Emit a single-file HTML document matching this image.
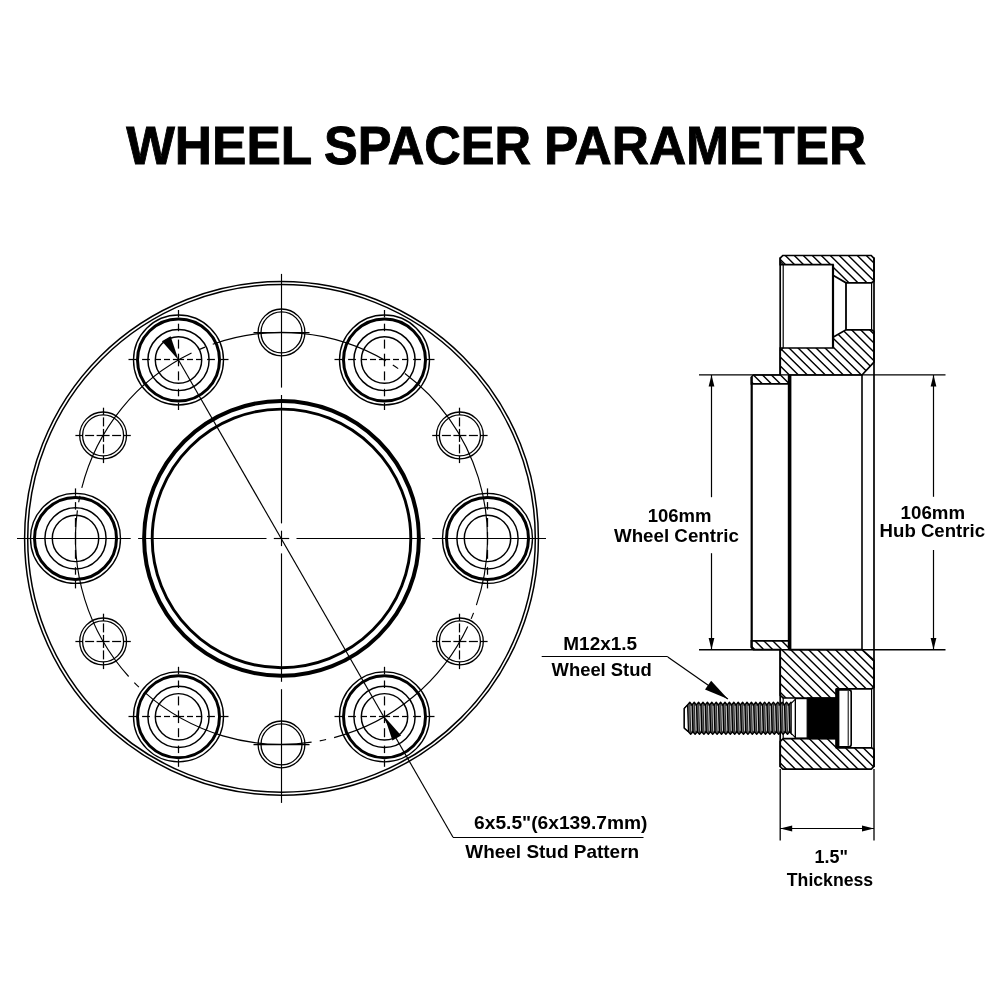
<!DOCTYPE html>
<html lang="en">
<head>
<meta charset="utf-8">
<title>Wheel Spacer Parameter</title>
<style>
html,body{margin:0;padding:0;background:#fff;}
body{width:1000px;height:1000px;overflow:hidden;}
svg{display:block;will-change:transform;}
</style>
</head>
<body>
<svg width="1000" height="1000" viewBox="0 0 1000 1000">
<rect width="1000" height="1000" fill="#fff"/>
<g fill="none" stroke="#000" stroke-linecap="butt">
<circle cx="281.5" cy="538.4" r="256.9" stroke-width="1.5"/>
<circle cx="281.5" cy="538.4" r="253.8" stroke-width="1.5"/>
<circle cx="281.5" cy="538.4" r="137.4" stroke-width="4"/>
<circle cx="281.5" cy="538.4" r="129.3" stroke-width="2.9"/>
<circle cx="487.5" cy="538.4" r="45" stroke-width="1.35"/>
<circle cx="487.5" cy="538.4" r="41" stroke-width="3"/>
<circle cx="487.5" cy="538.4" r="30.6" stroke-width="1.45"/>
<circle cx="487.5" cy="538.4" r="23.2" stroke-width="1.45"/>
<circle cx="384.5" cy="360" r="45" stroke-width="1.35"/>
<circle cx="384.5" cy="360" r="41" stroke-width="3"/>
<circle cx="384.5" cy="360" r="30.6" stroke-width="1.45"/>
<circle cx="384.5" cy="360" r="23.2" stroke-width="1.45"/>
<circle cx="178.5" cy="360" r="45" stroke-width="1.35"/>
<circle cx="178.5" cy="360" r="41" stroke-width="3"/>
<circle cx="178.5" cy="360" r="30.6" stroke-width="1.45"/>
<circle cx="178.5" cy="360" r="23.2" stroke-width="1.45"/>
<circle cx="75.5" cy="538.4" r="45" stroke-width="1.35"/>
<circle cx="75.5" cy="538.4" r="41" stroke-width="3"/>
<circle cx="75.5" cy="538.4" r="30.6" stroke-width="1.45"/>
<circle cx="75.5" cy="538.4" r="23.2" stroke-width="1.45"/>
<circle cx="178.5" cy="716.8" r="45" stroke-width="1.35"/>
<circle cx="178.5" cy="716.8" r="41" stroke-width="3"/>
<circle cx="178.5" cy="716.8" r="30.6" stroke-width="1.45"/>
<circle cx="178.5" cy="716.8" r="23.2" stroke-width="1.45"/>
<circle cx="384.5" cy="716.8" r="45" stroke-width="1.35"/>
<circle cx="384.5" cy="716.8" r="41" stroke-width="3"/>
<circle cx="384.5" cy="716.8" r="30.6" stroke-width="1.45"/>
<circle cx="384.5" cy="716.8" r="23.2" stroke-width="1.45"/>
<circle cx="459.9" cy="435.4" r="23.4" stroke-width="1.3"/>
<circle cx="459.9" cy="435.4" r="20.5" stroke-width="1.3"/>
<circle cx="281.5" cy="332.4" r="23.4" stroke-width="1.3"/>
<circle cx="281.5" cy="332.4" r="20.5" stroke-width="1.3"/>
<circle cx="103.1" cy="435.4" r="23.4" stroke-width="1.3"/>
<circle cx="103.1" cy="435.4" r="20.5" stroke-width="1.3"/>
<circle cx="103.1" cy="641.4" r="23.4" stroke-width="1.3"/>
<circle cx="103.1" cy="641.4" r="20.5" stroke-width="1.3"/>
<circle cx="281.5" cy="744.4" r="23.4" stroke-width="1.3"/>
<circle cx="281.5" cy="744.4" r="20.5" stroke-width="1.3"/>
<circle cx="459.9" cy="641.4" r="23.4" stroke-width="1.3"/>
<circle cx="459.9" cy="641.4" r="20.5" stroke-width="1.3"/>
<path d="M476.39 605.13A206 206 0 0 0 404.9 373.45" stroke-width="1.15"/>
<path d="M398.18 368.63A206 206 0 0 0 392.79 365.05" stroke-width="1.15"/>
<path d="M385.74 360.72A206 206 0 0 0 212.74 344.22" stroke-width="1.15"/>
<path d="M205 347.13A206 206 0 0 0 199.03 349.63" stroke-width="1.15"/>
<path d="M191.52 353.09A206 206 0 0 0 81.79 487.87" stroke-width="1.15"/>
<path d="M79.93 495.92A206 206 0 0 0 78.69 502.27" stroke-width="1.15"/>
<path d="M77.41 510.44A206 206 0 0 0 128.65 676.51" stroke-width="1.15"/>
<path d="M134.32 682.53A206 206 0 0 0 138.92 687.08" stroke-width="1.15"/>
<path d="M145 692.68A206 206 0 0 0 311.59 742.19" stroke-width="1.15"/>
<path d="M319.75 740.82A206 206 0 0 0 326.09 739.52" stroke-width="1.15"/>
<path d="M334.12 737.57A206 206 0 0 0 467.74 626.44" stroke-width="1.15"/>
<path d="M471.12 618.89A206 206 0 0 0 473.56 612.89" stroke-width="1.15"/>
<line x1="281.5" y1="538.5" x2="289.2" y2="538.5" stroke-width="1.15"/>
<line x1="296.5" y1="538.5" x2="424.9" y2="538.5" stroke-width="1.15"/>
<line x1="432.3" y1="538.5" x2="546" y2="538.5" stroke-width="1.15"/>
<line x1="281.5" y1="538.5" x2="273.8" y2="538.5" stroke-width="1.15"/>
<line x1="266.5" y1="538.5" x2="138.1" y2="538.5" stroke-width="1.15"/>
<line x1="130.7" y1="538.5" x2="17" y2="538.5" stroke-width="1.15"/>
<line x1="281.5" y1="538.4" x2="281.5" y2="546.1" stroke-width="1.15"/>
<line x1="281.5" y1="553.4" x2="281.5" y2="681.8" stroke-width="1.15"/>
<line x1="281.5" y1="689.2" x2="281.5" y2="802.9" stroke-width="1.15"/>
<line x1="281.5" y1="538.4" x2="281.5" y2="530.7" stroke-width="1.15"/>
<line x1="281.5" y1="523.4" x2="281.5" y2="395" stroke-width="1.15"/>
<line x1="281.5" y1="387.6" x2="281.5" y2="273.9" stroke-width="1.15"/>
<line x1="487.5" y1="538.4" x2="487.5" y2="544.7" stroke-width="1.25"/>
<line x1="487.5" y1="549.8" x2="487.5" y2="558.8" stroke-width="1.25"/>
<line x1="487.5" y1="567.2" x2="487.5" y2="574.7" stroke-width="1.25"/>
<line x1="487.5" y1="581" x2="487.5" y2="588.4" stroke-width="1.25"/>
<line x1="487.5" y1="538.4" x2="487.5" y2="532.1" stroke-width="1.25"/>
<line x1="487.5" y1="527" x2="487.5" y2="518" stroke-width="1.25"/>
<line x1="487.5" y1="509.6" x2="487.5" y2="502.1" stroke-width="1.25"/>
<line x1="487.5" y1="495.8" x2="487.5" y2="488.4" stroke-width="1.25"/>
<line x1="384.5" y1="360" x2="384.5" y2="366.3" stroke-width="1.25"/>
<line x1="384.5" y1="371.4" x2="384.5" y2="380.4" stroke-width="1.25"/>
<line x1="384.5" y1="388.8" x2="384.5" y2="396.3" stroke-width="1.25"/>
<line x1="384.5" y1="402.6" x2="384.5" y2="410" stroke-width="1.25"/>
<line x1="384.5" y1="360" x2="384.5" y2="353.7" stroke-width="1.25"/>
<line x1="384.5" y1="348.6" x2="384.5" y2="339.6" stroke-width="1.25"/>
<line x1="384.5" y1="331.2" x2="384.5" y2="323.7" stroke-width="1.25"/>
<line x1="384.5" y1="317.4" x2="384.5" y2="310" stroke-width="1.25"/>
<line x1="384.5" y1="359.5" x2="390.1" y2="359.5" stroke-width="1.25"/>
<line x1="393" y1="359.5" x2="399" y2="359.5" stroke-width="1.25"/>
<line x1="402" y1="359.5" x2="408" y2="359.5" stroke-width="1.25"/>
<line x1="413.1" y1="359.5" x2="420.9" y2="359.5" stroke-width="1.25"/>
<line x1="427" y1="359.5" x2="434.5" y2="359.5" stroke-width="1.25"/>
<line x1="384.5" y1="359.5" x2="378.9" y2="359.5" stroke-width="1.25"/>
<line x1="376" y1="359.5" x2="370" y2="359.5" stroke-width="1.25"/>
<line x1="367" y1="359.5" x2="361" y2="359.5" stroke-width="1.25"/>
<line x1="355.9" y1="359.5" x2="348.1" y2="359.5" stroke-width="1.25"/>
<line x1="342" y1="359.5" x2="334.5" y2="359.5" stroke-width="1.25"/>
<line x1="178.5" y1="360" x2="178.5" y2="366.3" stroke-width="1.25"/>
<line x1="178.5" y1="371.4" x2="178.5" y2="380.4" stroke-width="1.25"/>
<line x1="178.5" y1="388.8" x2="178.5" y2="396.3" stroke-width="1.25"/>
<line x1="178.5" y1="402.6" x2="178.5" y2="410" stroke-width="1.25"/>
<line x1="178.5" y1="360" x2="178.5" y2="353.7" stroke-width="1.25"/>
<line x1="178.5" y1="348.6" x2="178.5" y2="339.6" stroke-width="1.25"/>
<line x1="178.5" y1="331.2" x2="178.5" y2="323.7" stroke-width="1.25"/>
<line x1="178.5" y1="317.4" x2="178.5" y2="310" stroke-width="1.25"/>
<line x1="178.5" y1="359.5" x2="184.1" y2="359.5" stroke-width="1.25"/>
<line x1="187" y1="359.5" x2="193" y2="359.5" stroke-width="1.25"/>
<line x1="196" y1="359.5" x2="202" y2="359.5" stroke-width="1.25"/>
<line x1="207.1" y1="359.5" x2="214.9" y2="359.5" stroke-width="1.25"/>
<line x1="221" y1="359.5" x2="228.5" y2="359.5" stroke-width="1.25"/>
<line x1="178.5" y1="359.5" x2="172.9" y2="359.5" stroke-width="1.25"/>
<line x1="170" y1="359.5" x2="164" y2="359.5" stroke-width="1.25"/>
<line x1="161" y1="359.5" x2="155" y2="359.5" stroke-width="1.25"/>
<line x1="149.9" y1="359.5" x2="142.1" y2="359.5" stroke-width="1.25"/>
<line x1="136" y1="359.5" x2="128.5" y2="359.5" stroke-width="1.25"/>
<line x1="75.5" y1="538.4" x2="75.5" y2="544.7" stroke-width="1.25"/>
<line x1="75.5" y1="549.8" x2="75.5" y2="558.8" stroke-width="1.25"/>
<line x1="75.5" y1="567.2" x2="75.5" y2="574.7" stroke-width="1.25"/>
<line x1="75.5" y1="581" x2="75.5" y2="588.4" stroke-width="1.25"/>
<line x1="75.5" y1="538.4" x2="75.5" y2="532.1" stroke-width="1.25"/>
<line x1="75.5" y1="527" x2="75.5" y2="518" stroke-width="1.25"/>
<line x1="75.5" y1="509.6" x2="75.5" y2="502.1" stroke-width="1.25"/>
<line x1="75.5" y1="495.8" x2="75.5" y2="488.4" stroke-width="1.25"/>
<line x1="178.5" y1="716.8" x2="178.5" y2="723.1" stroke-width="1.25"/>
<line x1="178.5" y1="728.2" x2="178.5" y2="737.2" stroke-width="1.25"/>
<line x1="178.5" y1="745.6" x2="178.5" y2="753.1" stroke-width="1.25"/>
<line x1="178.5" y1="759.4" x2="178.5" y2="766.8" stroke-width="1.25"/>
<line x1="178.5" y1="716.8" x2="178.5" y2="710.5" stroke-width="1.25"/>
<line x1="178.5" y1="705.4" x2="178.5" y2="696.4" stroke-width="1.25"/>
<line x1="178.5" y1="688" x2="178.5" y2="680.5" stroke-width="1.25"/>
<line x1="178.5" y1="674.2" x2="178.5" y2="666.8" stroke-width="1.25"/>
<line x1="178.5" y1="716.5" x2="184.1" y2="716.5" stroke-width="1.25"/>
<line x1="187" y1="716.5" x2="193" y2="716.5" stroke-width="1.25"/>
<line x1="196" y1="716.5" x2="202" y2="716.5" stroke-width="1.25"/>
<line x1="207.1" y1="716.5" x2="214.9" y2="716.5" stroke-width="1.25"/>
<line x1="221" y1="716.5" x2="228.5" y2="716.5" stroke-width="1.25"/>
<line x1="178.5" y1="716.5" x2="172.9" y2="716.5" stroke-width="1.25"/>
<line x1="170" y1="716.5" x2="164" y2="716.5" stroke-width="1.25"/>
<line x1="161" y1="716.5" x2="155" y2="716.5" stroke-width="1.25"/>
<line x1="149.9" y1="716.5" x2="142.1" y2="716.5" stroke-width="1.25"/>
<line x1="136" y1="716.5" x2="128.5" y2="716.5" stroke-width="1.25"/>
<line x1="384.5" y1="716.8" x2="384.5" y2="723.1" stroke-width="1.25"/>
<line x1="384.5" y1="728.2" x2="384.5" y2="737.2" stroke-width="1.25"/>
<line x1="384.5" y1="745.6" x2="384.5" y2="753.1" stroke-width="1.25"/>
<line x1="384.5" y1="759.4" x2="384.5" y2="766.8" stroke-width="1.25"/>
<line x1="384.5" y1="716.8" x2="384.5" y2="710.5" stroke-width="1.25"/>
<line x1="384.5" y1="705.4" x2="384.5" y2="696.4" stroke-width="1.25"/>
<line x1="384.5" y1="688" x2="384.5" y2="680.5" stroke-width="1.25"/>
<line x1="384.5" y1="674.2" x2="384.5" y2="666.8" stroke-width="1.25"/>
<line x1="384.5" y1="716.5" x2="390.1" y2="716.5" stroke-width="1.25"/>
<line x1="393" y1="716.5" x2="399" y2="716.5" stroke-width="1.25"/>
<line x1="402" y1="716.5" x2="408" y2="716.5" stroke-width="1.25"/>
<line x1="413.1" y1="716.5" x2="420.9" y2="716.5" stroke-width="1.25"/>
<line x1="427" y1="716.5" x2="434.5" y2="716.5" stroke-width="1.25"/>
<line x1="384.5" y1="716.5" x2="378.9" y2="716.5" stroke-width="1.25"/>
<line x1="376" y1="716.5" x2="370" y2="716.5" stroke-width="1.25"/>
<line x1="367" y1="716.5" x2="361" y2="716.5" stroke-width="1.25"/>
<line x1="355.9" y1="716.5" x2="348.1" y2="716.5" stroke-width="1.25"/>
<line x1="342" y1="716.5" x2="334.5" y2="716.5" stroke-width="1.25"/>
<line x1="459.9" y1="435.5" x2="466.4" y2="435.5" stroke-width="1.25"/>
<line x1="468.9" y1="435.5" x2="477.9" y2="435.5" stroke-width="1.25"/>
<line x1="480.4" y1="435.5" x2="487.6" y2="435.5" stroke-width="1.25"/>
<line x1="459.9" y1="435.5" x2="453.4" y2="435.5" stroke-width="1.25"/>
<line x1="450.9" y1="435.5" x2="441.9" y2="435.5" stroke-width="1.25"/>
<line x1="439.4" y1="435.5" x2="432.2" y2="435.5" stroke-width="1.25"/>
<line x1="459.5" y1="435.4" x2="459.5" y2="441.9" stroke-width="1.25"/>
<line x1="459.5" y1="444.4" x2="459.5" y2="453.4" stroke-width="1.25"/>
<line x1="459.5" y1="455.9" x2="459.5" y2="463.1" stroke-width="1.25"/>
<line x1="459.5" y1="435.4" x2="459.5" y2="428.9" stroke-width="1.25"/>
<line x1="459.5" y1="426.4" x2="459.5" y2="417.4" stroke-width="1.25"/>
<line x1="459.5" y1="414.9" x2="459.5" y2="407.7" stroke-width="1.25"/>
<line x1="253.5" y1="332.5" x2="309.5" y2="332.5" stroke-width="1.25"/>
<line x1="103.1" y1="435.5" x2="109.6" y2="435.5" stroke-width="1.25"/>
<line x1="112.1" y1="435.5" x2="121.1" y2="435.5" stroke-width="1.25"/>
<line x1="123.6" y1="435.5" x2="130.8" y2="435.5" stroke-width="1.25"/>
<line x1="103.1" y1="435.5" x2="96.6" y2="435.5" stroke-width="1.25"/>
<line x1="94.1" y1="435.5" x2="85.1" y2="435.5" stroke-width="1.25"/>
<line x1="82.6" y1="435.5" x2="75.4" y2="435.5" stroke-width="1.25"/>
<line x1="103.5" y1="435.4" x2="103.5" y2="441.9" stroke-width="1.25"/>
<line x1="103.5" y1="444.4" x2="103.5" y2="453.4" stroke-width="1.25"/>
<line x1="103.5" y1="455.9" x2="103.5" y2="463.1" stroke-width="1.25"/>
<line x1="103.5" y1="435.4" x2="103.5" y2="428.9" stroke-width="1.25"/>
<line x1="103.5" y1="426.4" x2="103.5" y2="417.4" stroke-width="1.25"/>
<line x1="103.5" y1="414.9" x2="103.5" y2="407.7" stroke-width="1.25"/>
<line x1="103.1" y1="641.5" x2="109.6" y2="641.5" stroke-width="1.25"/>
<line x1="112.1" y1="641.5" x2="121.1" y2="641.5" stroke-width="1.25"/>
<line x1="123.6" y1="641.5" x2="130.8" y2="641.5" stroke-width="1.25"/>
<line x1="103.1" y1="641.5" x2="96.6" y2="641.5" stroke-width="1.25"/>
<line x1="94.1" y1="641.5" x2="85.1" y2="641.5" stroke-width="1.25"/>
<line x1="82.6" y1="641.5" x2="75.4" y2="641.5" stroke-width="1.25"/>
<line x1="103.5" y1="641.4" x2="103.5" y2="647.9" stroke-width="1.25"/>
<line x1="103.5" y1="650.4" x2="103.5" y2="659.4" stroke-width="1.25"/>
<line x1="103.5" y1="661.9" x2="103.5" y2="669.1" stroke-width="1.25"/>
<line x1="103.5" y1="641.4" x2="103.5" y2="634.9" stroke-width="1.25"/>
<line x1="103.5" y1="632.4" x2="103.5" y2="623.4" stroke-width="1.25"/>
<line x1="103.5" y1="620.9" x2="103.5" y2="613.7" stroke-width="1.25"/>
<line x1="253.5" y1="744.5" x2="309.5" y2="744.5" stroke-width="1.25"/>
<line x1="459.9" y1="641.5" x2="466.4" y2="641.5" stroke-width="1.25"/>
<line x1="468.9" y1="641.5" x2="477.9" y2="641.5" stroke-width="1.25"/>
<line x1="480.4" y1="641.5" x2="487.6" y2="641.5" stroke-width="1.25"/>
<line x1="459.9" y1="641.5" x2="453.4" y2="641.5" stroke-width="1.25"/>
<line x1="450.9" y1="641.5" x2="441.9" y2="641.5" stroke-width="1.25"/>
<line x1="439.4" y1="641.5" x2="432.2" y2="641.5" stroke-width="1.25"/>
<line x1="459.5" y1="641.4" x2="459.5" y2="647.9" stroke-width="1.25"/>
<line x1="459.5" y1="650.4" x2="459.5" y2="659.4" stroke-width="1.25"/>
<line x1="459.5" y1="661.9" x2="459.5" y2="669.1" stroke-width="1.25"/>
<line x1="459.5" y1="641.4" x2="459.5" y2="634.9" stroke-width="1.25"/>
<line x1="459.5" y1="632.4" x2="459.5" y2="623.4" stroke-width="1.25"/>
<line x1="459.5" y1="620.9" x2="459.5" y2="613.7" stroke-width="1.25"/>
<line x1="178.5" y1="360" x2="453" y2="837.2" stroke-width="1.15"/>
<line x1="453" y1="837.5" x2="643.5" y2="837.5" stroke-width="1.15"/>
</g>
<polygon fill="#000" points="178.5,360 170.58,336.28 161.92,341.28"/>
<polygon fill="#000" points="384.5,716.8 392.42,740.52 401.08,735.52"/>
<defs>
<clipPath id="hc0"><polygon points="780.2,258.1 782.8,255.5 871.2,255.5 874,258.3 874,281.1 871.6,282.8 846,282.8 833,275.3 833,264.6 780.2,264.6"/></clipPath>
<clipPath id="hc1"><polygon points="780.2,348 833,348 833,337.3 846,329.8 871.6,329.8 874,331.5 874,362.2 862,375 789.6,375 789.6,383.8 751.4,383.8 751.4,377 753.4,375 780.2,375"/></clipPath>
<clipPath id="hc2"><polygon points="751.4,640.8 789.6,640.8 789.6,649.6 862,649.6 874,660.4 874,687.3 871.6,688.8 836.5,688.8 836.5,698 783.2,698 780.2,695.3 780.2,649.6 753.4,649.6 751.4,647.6"/></clipPath>
<clipPath id="hc3"><polygon points="780.2,741.3 783.2,738.6 836.5,738.6 836.5,747.8 871.6,747.8 874,749.3 874,766.3 871.2,769.1 782.8,769.1 780.2,766.5"/></clipPath>
</defs>
<g clip-path="url(#hc0)" stroke="#000" stroke-width="1.42" fill="none">
<path d="M599.73 250L741.62 390M608.73 250L750.62 390M617.73 250L759.62 390M626.73 250L768.62 390M635.73 250L777.62 390M644.73 250L786.62 390M653.73 250L795.62 390M662.73 250L804.62 390M671.73 250L813.62 390M680.73 250L822.62 390M689.73 250L831.62 390M698.73 250L840.62 390M707.73 250L849.62 390M716.73 250L858.62 390M725.73 250L867.62 390M734.73 250L876.62 390M743.73 250L885.62 390M752.73 250L894.62 390M761.73 250L903.62 390M770.73 250L912.62 390M779.73 250L921.62 390M788.73 250L930.62 390M797.73 250L939.62 390M806.73 250L948.62 390M815.73 250L957.62 390M824.73 250L966.62 390M833.73 250L975.62 390M842.73 250L984.62 390M851.73 250L993.62 390M860.73 250L1002.62 390M869.73 250L1011.62 390M878.73 250L1020.62 390"/>
</g>
<g clip-path="url(#hc1)" stroke="#000" stroke-width="1.42" fill="none">
<path d="M599.73 250L741.62 390M608.73 250L750.62 390M617.73 250L759.62 390M626.73 250L768.62 390M635.73 250L777.62 390M644.73 250L786.62 390M653.73 250L795.62 390M662.73 250L804.62 390M671.73 250L813.62 390M680.73 250L822.62 390M689.73 250L831.62 390M698.73 250L840.62 390M707.73 250L849.62 390M716.73 250L858.62 390M725.73 250L867.62 390M734.73 250L876.62 390M743.73 250L885.62 390M752.73 250L894.62 390M761.73 250L903.62 390M770.73 250L912.62 390M779.73 250L921.62 390M788.73 250L930.62 390M797.73 250L939.62 390M806.73 250L948.62 390M815.73 250L957.62 390M824.73 250L966.62 390M833.73 250L975.62 390M842.73 250L984.62 390M851.73 250L993.62 390M860.73 250L1002.62 390M869.73 250L1011.62 390M878.73 250L1020.62 390"/>
</g>
<g clip-path="url(#hc2)" stroke="#000" stroke-width="1.42" fill="none">
<path d="M605.75 635L747.64 775M614.7 635L756.59 775M623.65 635L765.54 775M632.6 635L774.49 775M641.55 635L783.44 775M650.5 635L792.39 775M659.45 635L801.34 775M668.4 635L810.29 775M677.35 635L819.24 775M686.3 635L828.19 775M695.25 635L837.14 775M704.2 635L846.09 775M713.15 635L855.04 775M722.1 635L863.99 775M731.05 635L872.94 775M740 635L881.89 775M748.95 635L890.84 775M757.9 635L899.79 775M766.85 635L908.74 775M775.8 635L917.69 775M784.75 635L926.64 775M793.7 635L935.59 775M802.65 635L944.54 775M811.6 635L953.49 775M820.55 635L962.44 775M829.5 635L971.39 775M838.45 635L980.34 775M847.4 635L989.29 775M856.35 635L998.24 775M865.3 635L1007.19 775M874.25 635L1016.14 775M883.2 635L1025.09 775"/>
</g>
<g clip-path="url(#hc3)" stroke="#000" stroke-width="1.42" fill="none">
<path d="M605.75 635L747.64 775M614.7 635L756.59 775M623.65 635L765.54 775M632.6 635L774.49 775M641.55 635L783.44 775M650.5 635L792.39 775M659.45 635L801.34 775M668.4 635L810.29 775M677.35 635L819.24 775M686.3 635L828.19 775M695.25 635L837.14 775M704.2 635L846.09 775M713.15 635L855.04 775M722.1 635L863.99 775M731.05 635L872.94 775M740 635L881.89 775M748.95 635L890.84 775M757.9 635L899.79 775M766.85 635L908.74 775M775.8 635L917.69 775M784.75 635L926.64 775M793.7 635L935.59 775M802.65 635L944.54 775M811.6 635L953.49 775M820.55 635L962.44 775M829.5 635L971.39 775M838.45 635L980.34 775M847.4 635L989.29 775M856.35 635L998.24 775M865.3 635L1007.19 775M874.25 635L1016.14 775M883.2 635L1025.09 775"/>
</g>
<g fill="none" stroke="#000" stroke-linejoin="miter">
<polygon points="780.2,258.1 782.8,255.5 871.2,255.5 874,258.3 874,281.1 871.6,282.8 846,282.8 833,275.3 833,264.6 780.2,264.6" stroke-width="1.7"/>
<polygon points="780.2,348 833,348 833,337.3 846,329.8 871.6,329.8 874,331.5 874,362.2 862,375 789.6,375 789.6,383.8 751.4,383.8 751.4,377 753.4,375 780.2,375" stroke-width="1.7"/>
<polygon points="751.4,640.8 789.6,640.8 789.6,649.6 862,649.6 874,660.4 874,687.3 871.6,688.8 836.5,688.8 836.5,698 783.2,698 780.2,695.3 780.2,649.6 753.4,649.6 751.4,647.6" stroke-width="1.7"/>
<polygon points="780.2,741.3 783.2,738.6 836.5,738.6 836.5,747.8 871.6,747.8 874,749.3 874,766.3 871.2,769.1 782.8,769.1 780.2,766.5" stroke-width="1.7"/>
<line x1="874" y1="257.5" x2="874" y2="767.1" stroke-width="1.7"/>
<line x1="780.2" y1="257.5" x2="780.2" y2="375" stroke-width="1.7"/>
<line x1="780.2" y1="649.6" x2="780.2" y2="767.1" stroke-width="1.7"/>
<line x1="862" y1="375" x2="862" y2="649.6" stroke-width="1.6"/>
<line x1="751.7" y1="377" x2="751.7" y2="647.6" stroke-width="2.2"/>
<line x1="789.6" y1="375" x2="789.6" y2="649.6" stroke-width="3.6"/>
<line x1="783.2" y1="264.6" x2="783.2" y2="348" stroke-width="1.2"/>
<line x1="833" y1="264.6" x2="833" y2="348" stroke-width="2.2"/>
<line x1="846" y1="282.8" x2="846" y2="329.8" stroke-width="1.8"/>
<line x1="871.6" y1="282.8" x2="871.6" y2="329.8" stroke-width="1.2"/>
<line x1="780.2" y1="261.4" x2="783.2" y2="264.6" stroke-width="1.2"/>
<line x1="780.2" y1="351.2" x2="783.2" y2="348" stroke-width="1.2"/>
<line x1="783.2" y1="698" x2="783.2" y2="738.6" stroke-width="1.2"/>
<line x1="871.6" y1="688.8" x2="871.6" y2="747.8" stroke-width="1.2"/>
<line x1="836.9" y1="688.8" x2="836.9" y2="747.8" stroke-width="3.3"/>
</g>
<g>
<polygon points="684.3,708.5 687.6,704.9 689.8,702.3 692,704.9 694.2,702.3 696.4,704.9 698.6,702.3 700.8,704.9 703,702.3 705.2,704.9 707.4,702.3 709.6,704.9 711.8,702.3 714,704.9 716.2,702.3 718.4,704.9 720.6,702.3 722.8,704.9 725,702.3 727.2,704.9 729.4,702.3 731.6,704.9 733.8,702.3 736,704.9 738.2,702.3 740.4,704.9 742.6,702.3 744.8,704.9 747,702.3 749.2,704.9 751.4,702.3 753.6,704.9 755.8,702.3 758,704.9 760.2,702.3 762.4,704.9 764.6,702.3 766.8,704.9 769,702.3 771.2,704.9 773.4,702.3 775.6,704.9 777.8,702.3 780,704.9 782.2,702.3 784.4,704.9 786.6,702.3 788.8,704.9 791,702.3 793.2,704.9 791.2,731.7 791.9,734.3 789.7,731.7 787.5,734.3 785.3,731.7 783.1,734.3 780.9,731.7 778.7,734.3 776.5,731.7 774.3,734.3 772.1,731.7 769.9,734.3 767.7,731.7 765.5,734.3 763.3,731.7 761.1,734.3 758.9,731.7 756.7,734.3 754.5,731.7 752.3,734.3 750.1,731.7 747.9,734.3 745.7,731.7 743.5,734.3 741.3,731.7 739.1,734.3 736.9,731.7 734.7,734.3 732.5,731.7 730.3,734.3 728.1,731.7 725.9,734.3 723.7,731.7 721.5,734.3 719.3,731.7 717.1,734.3 714.9,731.7 712.7,734.3 710.5,731.7 708.3,734.3 706.1,731.7 703.9,734.3 701.7,731.7 699.5,734.3 697.3,731.7 695.1,734.3 692.9,731.7 690.7,734.3 688.5,731.7 684.3,728.1" fill="#727272" stroke="#000" stroke-width="1.4" stroke-linejoin="round"/>
<polygon points="684.3,708.5 687.6,704.9 688.5,731.7 684.3,728.1" fill="#fff" stroke="#000" stroke-width="1.3" stroke-linejoin="round"/>
<path d="M692 704.3L692.9 732.3M696.4 704.3L697.3 732.3M700.8 704.3L701.7 732.3M705.2 704.3L706.1 732.3M709.6 704.3L710.5 732.3M714 704.3L714.9 732.3M718.4 704.3L719.3 732.3M722.8 704.3L723.7 732.3M727.2 704.3L728.1 732.3M731.6 704.3L732.5 732.3M736 704.3L736.9 732.3M740.4 704.3L741.3 732.3M744.8 704.3L745.7 732.3M749.2 704.3L750.1 732.3M753.6 704.3L754.5 732.3M758 704.3L758.9 732.3M762.4 704.3L763.3 732.3M766.8 704.3L767.7 732.3M771.2 704.3L772.1 732.3M775.6 704.3L776.5 732.3M780 704.3L780.9 732.3M784.4 704.3L785.3 732.3M788.8 704.3L789.7 732.3M793.2 704.3L794.1 732.3" stroke="#000" stroke-width="1.7" fill="none"/>
<path d="M690 703.8L690.7 732.8M694.4 703.8L695.1 732.8M698.8 703.8L699.5 732.8M703.2 703.8L703.9 732.8M707.6 703.8L708.3 732.8M712 703.8L712.7 732.8M716.4 703.8L717.1 732.8M720.8 703.8L721.5 732.8M725.2 703.8L725.9 732.8M729.6 703.8L730.3 732.8M734 703.8L734.7 732.8M738.4 703.8L739.1 732.8M742.8 703.8L743.5 732.8M747.2 703.8L747.9 732.8M751.6 703.8L752.3 732.8M756 703.8L756.7 732.8M760.4 703.8L761.1 732.8M764.8 703.8L765.5 732.8M769.2 703.8L769.9 732.8M773.6 703.8L774.3 732.8M778 703.8L778.7 732.8M782.4 703.8L783.1 732.8M786.8 703.8L787.5 732.8M791.2 703.8L791.9 732.8" stroke="#222" stroke-width="0.9" fill="none"/>
<path d="M691 705.8L691.7 730.8M695.4 705.8L696.1 730.8M699.8 705.8L700.5 730.8M704.2 705.8L704.9 730.8M708.6 705.8L709.3 730.8M713 705.8L713.7 730.8M717.4 705.8L718.1 730.8M721.8 705.8L722.5 730.8M726.2 705.8L726.9 730.8M730.6 705.8L731.3 730.8M735 705.8L735.7 730.8M739.4 705.8L740.1 730.8M743.8 705.8L744.5 730.8M748.2 705.8L748.9 730.8M752.6 705.8L753.3 730.8M757 705.8L757.7 730.8M761.4 705.8L762.1 730.8M765.8 705.8L766.5 730.8M770.2 705.8L770.9 730.8M774.6 705.8L775.3 730.8M779 705.8L779.7 730.8M783.4 705.8L784.1 730.8M787.8 705.8L788.5 730.8M792.2 705.8L792.9 730.8" stroke="#e8e8e8" stroke-width="0.8" fill="none"/>
<path d="M791.2 703.3L795.4 699L795.4 737.6L791.2 733.3Z" fill="#fff" stroke="#000" stroke-width="1.1"/>
<rect x="795.4" y="698.6" width="11.8" height="39.4" fill="#fff" stroke="#000" stroke-width="1.2"/>
<rect x="807.2" y="697.4" width="29.8" height="41.8" fill="#000"/>
<path d="M838.6 689.9L849 689.9Q851.2 689.9 851.2 692.3L851.2 744.3Q851.2 746.7 849 746.7L838.6 746.7Z" fill="#fff" stroke="#000" stroke-width="1.6"/>
<line x1="848.2" y1="690.8" x2="848.2" y2="745.8" stroke="#000" stroke-width="1"/>
</g>
<g fill="none" stroke="#000" stroke-width="1">
<line x1="699" y1="374.9" x2="945.5" y2="374.9" stroke-width="1.4"/>
<line x1="699" y1="649.7" x2="945.5" y2="649.7" stroke-width="1.4"/>
<line x1="711.5" y1="375" x2="711.5" y2="497.2" stroke-width="1.2"/>
<line x1="711.5" y1="553.2" x2="711.5" y2="649.6" stroke-width="1.2"/>
<line x1="933.5" y1="375" x2="933.5" y2="496.8" stroke-width="1.2"/>
<line x1="933.5" y1="550" x2="933.5" y2="649.6" stroke-width="1.2"/>
<line x1="780.2" y1="769.1" x2="780.2" y2="840.5" stroke-width="1.3"/>
<line x1="874" y1="769.1" x2="874" y2="840.5" stroke-width="1.3"/>
<line x1="780.2" y1="828.5" x2="874" y2="828.5" stroke-width="1.2"/>
<line x1="541.7" y1="656.5" x2="667.8" y2="656.5" stroke-width="1.2"/>
<line x1="667.8" y1="656.9" x2="727.9" y2="699" stroke-width="1.2"/>
</g>
<polygon fill="#000" points="711.5,375 708.6,386.6 714.4,386.6"/>
<polygon fill="#000" points="711.5,649.6 714.4,638 708.6,638"/>
<polygon fill="#000" points="933.5,375 930.6,386.6 936.4,386.6"/>
<polygon fill="#000" points="933.5,649.6 936.4,638 930.6,638"/>
<polygon fill="#000" points="780.2,828.6 792.2,831.6 792.2,825.6"/>
<polygon fill="#000" points="874,828.6 862,825.6 862,831.6"/>
<polygon fill="#000" points="727.9,699 711.15,680.73 705.01,689.5"/>
<g font-family="'Liberation Sans', Arial, sans-serif" fill="#000">
<text y="164" font-size="54.5" font-weight="700" stroke="#000" stroke-width="0.9"><tspan x="126.2" textLength="185.1" lengthAdjust="spacingAndGlyphs">WHEEL</tspan> <tspan x="323.9" textLength="207.2" lengthAdjust="spacingAndGlyphs">SPACER</tspan> <tspan x="544" textLength="322.3" lengthAdjust="spacingAndGlyphs">PARAMETER</tspan></text>
<text x="647.7" y="521.8" font-size="18.4" font-weight="700" textLength="63.8" lengthAdjust="spacingAndGlyphs">106mm</text>
<text x="614" y="541.5" font-size="18.5" font-weight="700" textLength="124.9" lengthAdjust="spacingAndGlyphs">Wheel Centric</text>
<text x="900.6" y="518.5" font-size="18.5" font-weight="700" textLength="64.4" lengthAdjust="spacingAndGlyphs">106mm</text>
<text x="879.6" y="537.4" font-size="18.5" font-weight="700" textLength="105.4" lengthAdjust="spacingAndGlyphs">Hub Centric</text>
<text x="563.3" y="649.5" font-size="18.5" font-weight="700" textLength="73.8" lengthAdjust="spacingAndGlyphs">M12x1.5</text>
<text x="551.6" y="675.8" font-size="18.5" font-weight="700" textLength="100.1" lengthAdjust="spacingAndGlyphs">Wheel Stud</text>
<text x="474.1" y="828.6" font-size="18.5" font-weight="700" textLength="173.4" lengthAdjust="spacingAndGlyphs">6x5.5&quot;(6x139.7mm)</text>
<text x="465.3" y="857.9" font-size="18.5" font-weight="700" textLength="173.8" lengthAdjust="spacingAndGlyphs">Wheel Stud Pattern</text>
<text x="814.6" y="863.4" font-size="19.2" font-weight="700" textLength="33.4" lengthAdjust="spacingAndGlyphs">1.5&quot;</text>
<text x="786.8" y="886" font-size="18.9" font-weight="700" textLength="86.4" lengthAdjust="spacingAndGlyphs">Thickness</text>
</g>
</svg>
</body>
</html>
